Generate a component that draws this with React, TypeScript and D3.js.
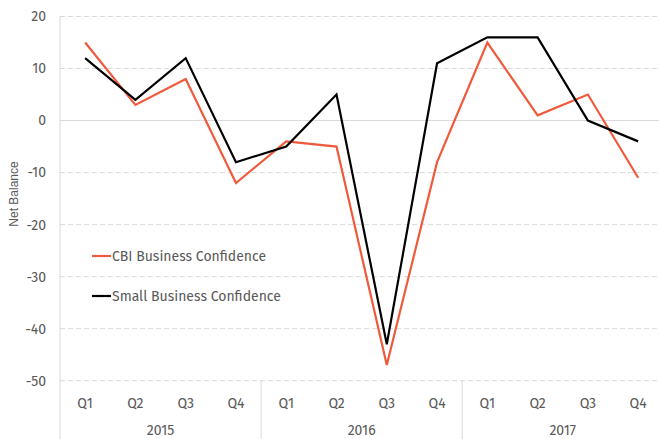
import React from "react";
import * as d3 from "d3";

const quarters = ["Q1", "Q2", "Q3", "Q4", "Q1", "Q2", "Q3", "Q4", "Q1", "Q2", "Q3", "Q4"];
const years = ["2015", "2016", "2017"];
const cbi = [15, 3, 8, -12, -4, -5, -47, -8, 15, 1, 5, -11];
const small = [12, 4, 12, -8, -5, 5, -43, 11, 16, 16, 0, -4];
const yTicks = [20, 10, 0, -10, -20, -30, -40, -50];

const W = 659;
const H = 439;
const font = "'Fira Sans', 'Open Sans', 'Noto Sans', sans-serif";
const textColor = "#595959";

export default function App() {
  const idx = quarters.map((_, i) => i);
  const x = d3.scaleBand<number>().domain(idx).range([60, 663.3]).padding(0);
  const y = d3.scaleLinear().domain([-50, 20]).range([380.7, 16.5]);
  const cx = (i: number) => (x(i) as number) + x.bandwidth() / 2;
  const line = d3
    .line<number>()
    .x((_, i) => cx(i))
    .y((d) => y(d));

  return (
    <svg width={W} height={H} style={{ position: "absolute", left: 0, top: 0 }}>
      <rect width={W} height={H} fill="#fff" />
      {yTicks.map((t) => (
        <g key={t}>
          <line
            x1={60}
            x2={W}
            y1={y(t)}
            y2={y(t)}
            stroke="#d9d9d9"
            strokeWidth={1}
            strokeDasharray={t === 0 ? undefined : "5,3"}
          />
          <text
            x={46}
            y={y(t)}
            dy="0.35em"
            textAnchor="end"
            fontFamily={font}
            fontSize={14}
            fill={textColor}
          >
            {t}
          </text>
        </g>
      ))}
      <line x1={60} x2={60} y1={16.5} y2={H} stroke="#d9d9d9" strokeWidth={1} />
      {[4, 8].map((i) => (
        <line
          key={i}
          x1={x(i) as number}
          x2={x(i) as number}
          y1={y(-50)}
          y2={H}
          stroke="#d9d9d9"
          strokeWidth={1}
        />
      ))}
      {quarters.map((q, i) => (
        <text
          key={i}
          x={cx(i)}
          y={403}
          dy="0.35em"
          textAnchor="middle"
          fontFamily={font}
          fontSize={14}
          fill={textColor}
        >
          {q}
        </text>
      ))}
      {years.map((yr, j) => (
        <text
          key={yr}
          x={((x(j * 4) as number) + (x(j * 4 + 3) as number) + x.bandwidth()) / 2}
          y={430}
          dy="0.35em"
          textAnchor="middle"
          fontFamily={font}
          fontSize={14}
          fill={textColor}
        >
          {yr}
        </text>
      ))}
      <text
        transform={`translate(14,194) rotate(-90)`}
        textAnchor="middle"
        dy="0.35em"
        fontFamily="'Liberation Sans', Arial, sans-serif"
        fontSize={12}
        fill={textColor}
      >
        Net Balance
      </text>
      <path d={line(cbi) || ""} fill="none" stroke="#f05a3c" strokeWidth={2.2} strokeLinejoin="miter" />
      <path d={line(small) || ""} fill="none" stroke="#000" strokeWidth={2.2} strokeLinejoin="miter" />
      <line x1={92} x2={111} y1={256} y2={256} stroke="#f05a3c" strokeWidth={2.2} />
      <text x={112} y={256} dy="0.35em" fontFamily={font} fontSize={14} fill={textColor}>
        CBI Business Confidence
      </text>
      <line x1={92} x2={111} y1={296} y2={296} stroke="#000" strokeWidth={2.2} />
      <text x={112} y={296} dy="0.35em" fontFamily={font} fontSize={14} fill={textColor}>
        Small Business Confidence
      </text>
    </svg>
  );
}
